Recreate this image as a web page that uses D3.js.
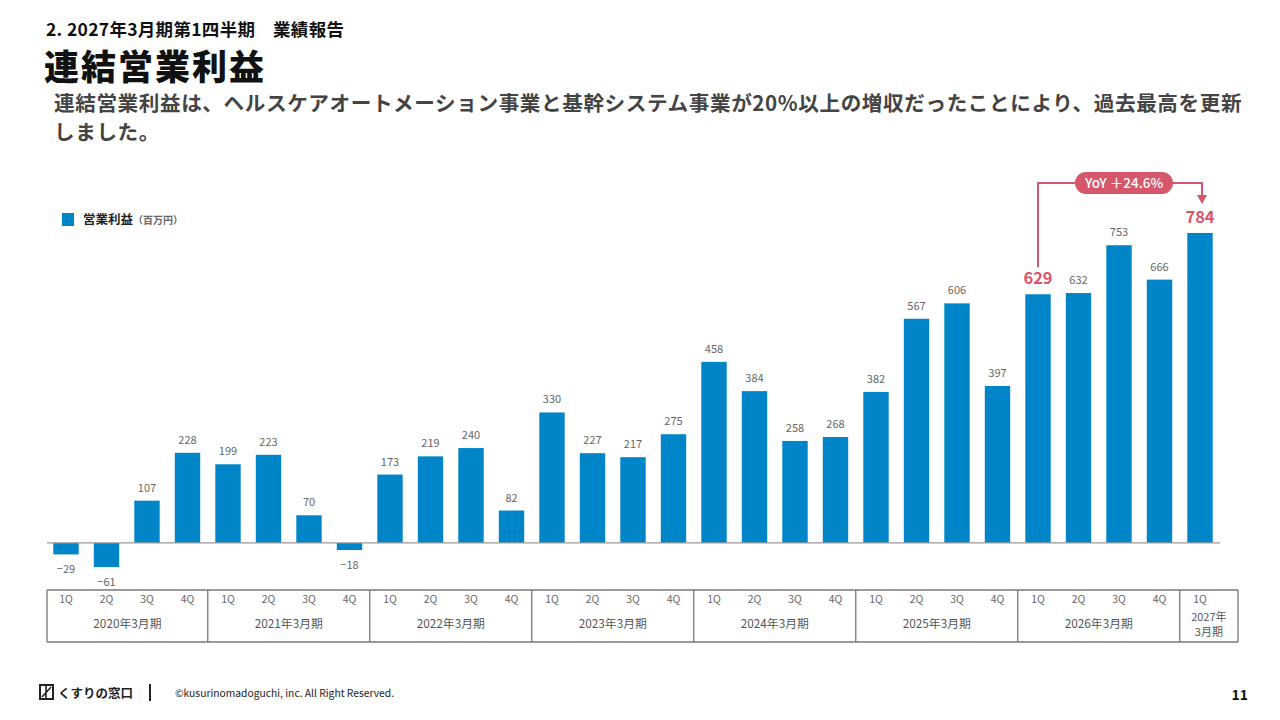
<!DOCTYPE html>
<html><head><meta charset="utf-8">
<script src="https://cdn.jsdelivr.net/npm/d3@7"></script>
<style>
html,body{margin:0;padding:0;background:#fff;}
svg{display:block;font-family:"Noto Sans CJK JP","Noto Sans",sans-serif;}
</style></head>
<body>
<script>
const quarters = ["1Q","2Q","3Q","4Q","1Q","2Q","3Q","4Q","1Q","2Q","3Q","4Q","1Q","2Q","3Q","4Q","1Q","2Q","3Q","4Q","1Q","2Q","3Q","4Q","1Q","2Q","3Q","4Q","1Q"];
const values = [-29,-61,107,228,199,223,70,-18,173,219,240,82,330,227,217,275,458,384,258,268,382,567,606,397,629,632,753,666,784];
const fiscalYears = ["2020年3月期","2021年3月期","2022年3月期","2023年3月期","2024年3月期","2025年3月期","2026年3月期","2027年\n3月期"];
const yearSizes = [4,4,4,4,4,4,4,1];
const highlightIdx = [24, 28];
const yoyLabel = "YoY ＋24.6%";
const legendLabel = "営業利益";
const legendUnit = "（百万円）";

const W = 1280, H = 720;
const BLUE = "#0086c8", RED = "#d6576b";
const svg = d3.select("body").append("svg").attr("width", W).attr("height", H);

// Header
svg.append("text").attr("x", 46).attr("y", 35.5).attr("font-size", 17.5).attr("font-weight", 700).attr("fill", "#111")
  .attr("letter-spacing", 0.3)
  .text("2. 2027年3月期第1四半期　業績報告");
svg.append("text").attr("x", 44).attr("y", 80).attr("font-size", 35).attr("font-weight", 900).attr("fill", "#111")
  .attr("letter-spacing", 2)
  .text("連結営業利益");
svg.append("text").attr("x", 54).attr("y", 111).attr("font-size", 20.6).attr("font-weight", 700).attr("fill", "#444")
  .attr("letter-spacing", 0.6)
  .text("連結営業利益は、ヘルスケアオートメーション事業と基幹システム事業が20%以上の増収だったことにより、過去最高を更新");
svg.append("text").attr("x", 54).attr("y", 140).attr("font-size", 20.6).attr("font-weight", 700).attr("fill", "#444")
  .attr("letter-spacing", 0.6)
  .text("しました。");

// Legend
svg.append("rect").attr("x", 62).attr("y", 213).attr("width", 12).attr("height", 13).attr("fill", BLUE);
const lg = svg.append("text").attr("x", 83).attr("y", 224).attr("font-weight", 700).attr("fill", "#222");
lg.append("tspan").attr("font-size", 12.5).text(legendLabel);
lg.append("tspan").attr("font-size", 10).attr("fill", "#666").text(legendUnit);

// Scales
const idx = d3.range(values.length);
const x = d3.scaleBand().domain(idx).range([45.75, 1220.25]).paddingInner(0.373).paddingOuter(0.1865);
const y = d3.scaleLinear().domain([-100, 900]).range([582.5, 187.1]);

// Bars
svg.append("g").selectAll("rect").data(values).join("rect")
  .attr("x", (d, i) => x(i))
  .attr("width", x.bandwidth())
  .attr("y", d => Math.min(y(d), y(0)))
  .attr("height", d => Math.abs(y(d) - y(0)))
  .attr("fill", BLUE);

// Baseline
svg.append("line").attr("x1", 47).attr("x2", 1220).attr("y1", y(0)).attr("y2", y(0))
  .attr("stroke", "#999").attr("stroke-width", 1.2);

// Value labels
svg.append("g").selectAll("text").data(values).join("text")
  .attr("x", (d, i) => x(i) + x.bandwidth() / 2)
  .attr("y", (d, i) => highlightIdx.includes(i) ? y(d) - 10 : (d >= 0 ? y(d) - 9 : y(d) + 19))
  .attr("text-anchor", "middle")
  .attr("font-size", (d, i) => highlightIdx.includes(i) ? 16.5 : 11)
  .attr("font-weight", (d, i) => highlightIdx.includes(i) ? 700 : 400)
  .attr("fill", (d, i) => highlightIdx.includes(i) ? RED : "#666")
  .text(d => d < 0 ? "−" + Math.abs(d) : d);

// YoY annotation
const a0 = highlightIdx[0], a1 = highlightIdx[1];
const ax0 = x(a0) + x.bandwidth() / 2, ax1 = x(a1) + x.bandwidth() / 2 + 2;
const topY = 183;
svg.append("path")
  .attr("d", `M${ax0},${y(values[a0]) - 27} V${topY} H${ax1} V${y(values[a1]) - 36}`)
  .attr("fill", "none").attr("stroke", RED).attr("stroke-width", 2);
svg.append("path")
  .attr("d", `M${ax1 - 5},${y(values[a1]) - 38} L${ax1 + 5},${y(values[a1]) - 38} L${ax1},${y(values[a1]) - 29} Z`)
  .attr("fill", RED);
const pillCx = (ax0 + ax1) / 2 + 4;
svg.append("rect").attr("x", pillCx - 49).attr("y", topY - 11).attr("width", 98).attr("height", 22)
  .attr("rx", 11).attr("fill", RED);
svg.append("text").attr("x", pillCx).attr("y", topY + 5).attr("text-anchor", "middle")
  .attr("font-size", 13.5).attr("font-weight", 500).attr("fill", "#fff").text(yoyLabel);

// Table
const tTop = 590, tBot = 642, tLeft = 47, tRight = 1238;
const tg = svg.append("g");
tg.append("line").attr("x1", tLeft).attr("x2", tRight).attr("y1", tTop).attr("y2", tTop).attr("stroke", "#777").attr("stroke-width", 1.3);
tg.append("line").attr("x1", tLeft).attr("x2", tRight).attr("y1", tBot).attr("y2", tBot).attr("stroke", "#777").attr("stroke-width", 1.3);
let start = 0;
const bounds = [];
yearSizes.forEach((n, k) => {
  const left = k === 0 ? tLeft : x(start) - x.step() * x.paddingInner() / 2;
  const right = k === yearSizes.length - 1 ? tRight : x(start + n - 1) + x.bandwidth() + x.step() * x.paddingInner() / 2;
  bounds.push([left, right]);
  start += n;
});
bounds.forEach(([l, r], k) => {
  if (k === 0) tg.append("line").attr("x1", l).attr("x2", l).attr("y1", tTop).attr("y2", tBot).attr("stroke", "#777").attr("stroke-width", 1.3);
  tg.append("line").attr("x1", r).attr("x2", r).attr("y1", tTop).attr("y2", tBot).attr("stroke", "#777").attr("stroke-width", 1.3);
  const lines = fiscalYears[k].split("\n");
  if (lines.length === 1) {
    tg.append("text").attr("x", (l + r) / 2).attr("text-anchor", "middle")
      .attr("font-size", 11.8).attr("fill", "#555").attr("y", 628).text(lines[0]);
  } else {
    lines.forEach((s, j) => tg.append("text").attr("x", (l + r) / 2).attr("text-anchor", "middle")
      .attr("font-size", 11).attr("fill", "#555").attr("y", 621 + j * 15).text(s));
  }
});
tg.selectAll(".q").data(quarters).join("text")
  .attr("x", (d, i) => x(i) + x.bandwidth() / 2)
  .attr("y", 603)
  .attr("text-anchor", "middle").attr("font-size", 10.5).attr("fill", "#666")
  .text(d => d);

// Footer
const lgo = svg.append("g").attr("transform", "translate(40,685)");
lgo.append("rect").attr("x", 0).attr("y", 0).attr("width", 13).attr("height", 14).attr("fill", "none").attr("stroke", "#222").attr("stroke-width", 2);
lgo.append("path").attr("d", "M2,12 L11,2 M6,0 V14").attr("stroke", "#222").attr("stroke-width", 1.6);
svg.append("text").attr("x", 58).attr("y", 698).attr("font-size", 12.5).attr("font-weight", 700).attr("fill", "#222").text("くすりの窓口");
svg.append("line").attr("x1", 150).attr("x2", 150).attr("y1", 684).attr("y2", 701).attr("stroke", "#222").attr("stroke-width", 2);
svg.append("text").attr("x", 175).attr("y", 697).attr("font-size", 10.3).attr("fill", "#222").text("©kusurinomadoguchi, inc. All Right Reserved.");
svg.append("text").attr("x", 1248).attr("y", 700).attr("text-anchor", "end").attr("font-size", 14).attr("font-weight", 700).attr("fill", "#111").text("11");
</script>
</body></html>
